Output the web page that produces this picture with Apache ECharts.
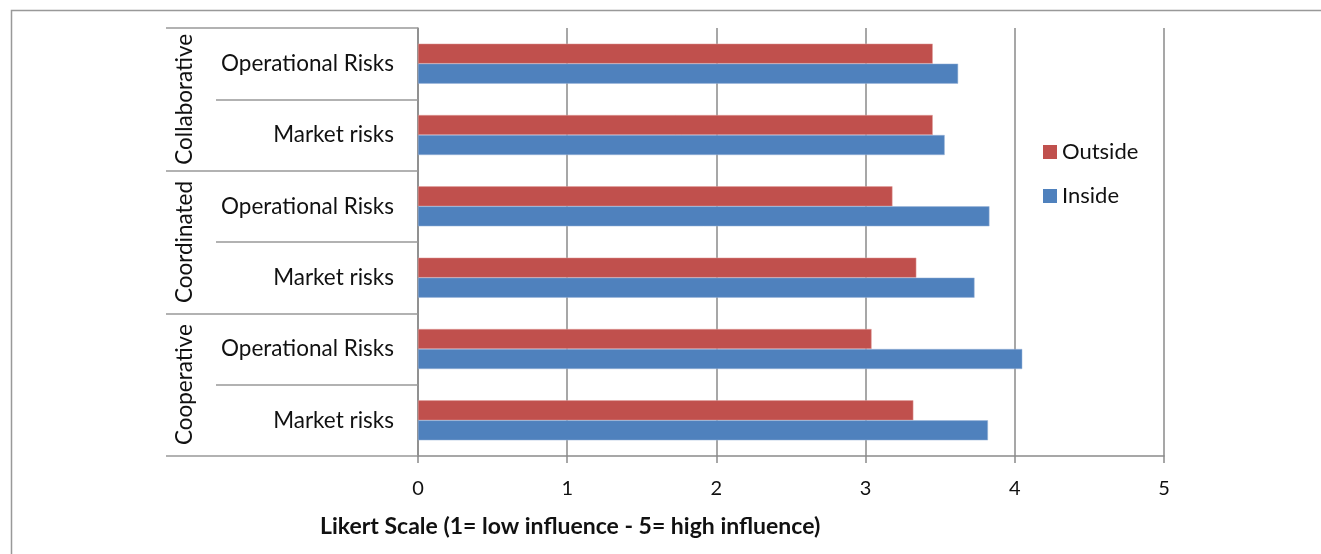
<!DOCTYPE html>
<html>
<head>
<meta charset="utf-8">
<script src="https://cdn.jsdelivr.net/npm/echarts@6/dist/echarts.min.js"></script>
<style>
html,body{margin:0;padding:0;background:#fff;}
#c{width:1321px;height:554px;}
</style>
</head>
<body>
<div id="c"></div>
<script>
const groups = ['Cooperative', 'Coordinated', 'Collaborative'];
const categories = ['Market risks', 'Operational Risks', 'Market risks', 'Operational Risks', 'Market risks', 'Operational Risks'];
const outside = [3.32, 3.04, 3.34, 3.18, 3.45, 3.45];
const inside = [3.82, 4.05, 3.73, 3.83, 3.53, 3.62];
const xTicks = [0, 1, 2, 3, 4, 5];
const axisTitle = 'Likert Scale (1= low influence - 5= high influence)';

const FONT = 'Lato, "Open Sans", sans-serif';
const GRAY = '#8a8a8a';

const chart = echarts.init(document.getElementById('c'), null, {renderer: 'canvas'});
chart.setOption({
  backgroundColor: '#fff',
  animation: false,
  textStyle: {fontFamily: FONT},
  grid: {left: 418, right: 157, top: 28, bottom: 98, containLabel: false},
  legend: {
    data: ['Outside', 'Inside'],
    orient: 'vertical',
    left: 1038, top: 136,
    icon: 'rect', itemWidth: 14, itemHeight: 14, itemGap: 22,
    itemStyle: {borderWidth: 0},
    textStyle: {fontSize: 22, lineHeight: 22, color: '#111', fontFamily: FONT}
  },
  xAxis: {
    type: 'value', min: xTicks[0], max: xTicks[xTicks.length - 1], interval: 1,
    axisLine: {show: true, lineStyle: {color: GRAY, width: 1.5}},
    axisTick: {show: true, length: 7, lineStyle: {color: GRAY, width: 1.5}},
    axisLabel: {fontSize: 20, color: '#111', margin: 23, fontFamily: FONT},
    splitLine: {show: true, lineStyle: {color: GRAY, width: 1.5}}
  },
  yAxis: [
    {
      type: 'category', data: categories, position: 'left',
      axisLine: {show: true, onZero: false, lineStyle: {color: GRAY, width: 1.5}},
      axisTick: {show: true, length: 202, lineStyle: {color: '#999', width: 1.5}},
      axisLabel: {fontSize: 22.5, color: '#111', margin: 24, interval: 0, fontFamily: FONT}
    },
    {
      type: 'category', data: groups, position: 'left', offset: 0,
      axisLine: {show: false},
      axisTick: {show: true, length: 252, lineStyle: {color: '#999', width: 1.5}},
      axisLabel: {fontSize: 22.5, color: '#111', margin: 233, rotate: 90, interval: 0, hideOverlap: false, align: 'center', verticalAlign: 'middle', fontFamily: FONT}
    }
  ],
  series: [
    {
      name: 'Outside', type: 'bar', data: outside, yAxisIndex: 0,
      barWidth: 20, barGap: '0%',
      itemStyle: {color: '#C0504D', borderColor: '#e0a09e', borderWidth: 0.5}
    },
    {
      name: 'Inside', type: 'bar', data: inside, yAxisIndex: 0,
      barWidth: 20, barGap: '0%',
      itemStyle: {color: '#4F81BD', borderColor: '#9bb5d9', borderWidth: 0.5}
    }
  ],
  graphic: [
    {type: 'rect', left: 9, top: 8, shape: {width: 1340, height: 580}, style: {fill: 'none', stroke: '#999', lineWidth: 1.5}, silent: true},
    {type: 'text', left: 320, top: 515, style: {text: axisTitle, font: 'bold 23px ' + FONT, fill: '#111'}}
  ]
});
</script>
</body>
</html>
